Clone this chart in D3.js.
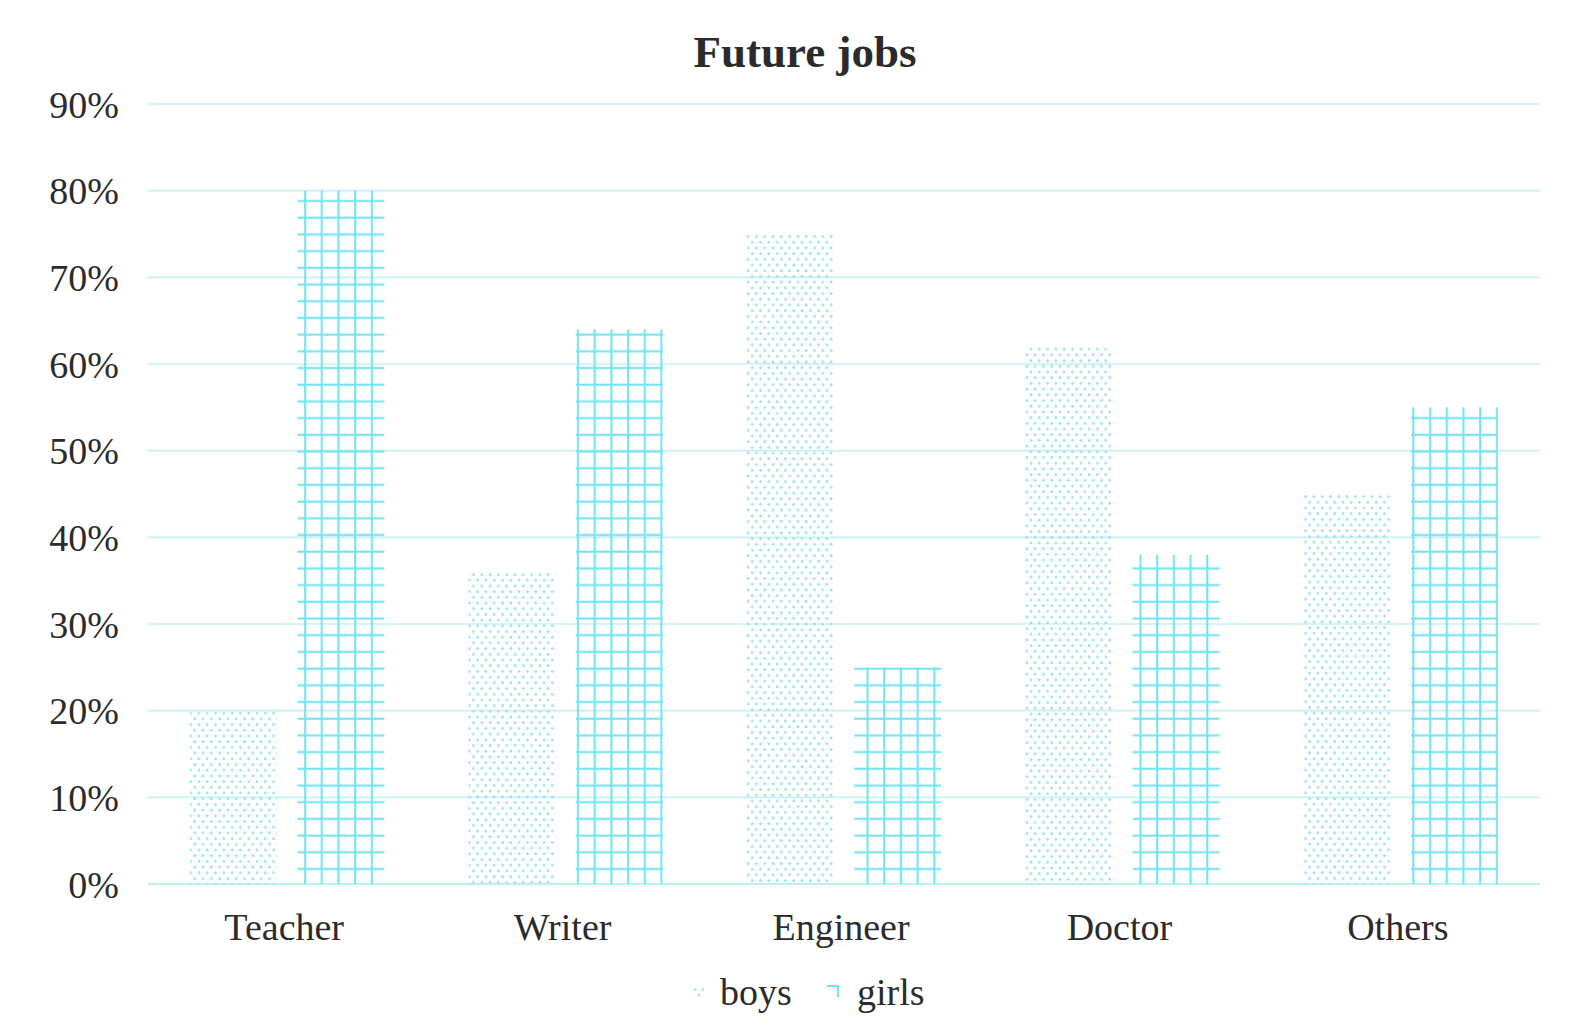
<!DOCTYPE html>
<html lang="en">
  <head>
    <meta charset="UTF-8" />
    <title>Future jobs</title>
    <style>
      html, body { margin: 0; padding: 0; background: #fff; overflow: hidden; }
      svg { display: block; }
      text { font-family: "Liberation Serif", "DejaVu Serif", serif; fill: #2b2b2b; }
    </style>
  </head>
  <body>
    <svg></svg>
    <script src="https://d3js.org/d3.v7.min.js"></script>
    <script>
      // data
      const jobs = ["Teacher", "Writer", "Engineer", "Doctor", "Others"];
      const boys = [20, 36, 75, 62, 45];
      const girls = [80, 64, 25, 38, 55];
      const series = ["boys", "girls"];
      const yTicks = [0, 10, 20, 30, 40, 50, 60, 70, 80, 90];

      const width = 1586;
      const height = 1033;
      const margin = { top: 104, right: 46, bottom: 149, left: 148 };

      const svg = d3.select("svg").attr("width", width).attr("height", height);
      const defs = svg.append("defs");

      const x = d3
        .scaleBand()
        .domain(jobs)
        .range([margin.left, width - margin.right]);

      const inner = d3
        .scaleBand()
        .domain(series)
        .range([42, x.bandwidth() - 42])
        .paddingInner(0.19);

      const y = d3
        .scaleLinear()
        .domain([0, 90])
        .range([height - margin.bottom, margin.top]);

      const gridColor = "#c6f0f5";
      const girlsColor = "#72e3ef";
      const boysColor = "#a2e1eb";

      // gridlines
      svg
        .append("g")
        .selectAll("line")
        .data(yTicks)
        .join("line")
        .attr("x1", margin.left)
        .attr("x2", width - margin.right)
        .attr("y1", (d) => y(d))
        .attr("y2", (d) => y(d))
        .attr("stroke", (d) => (d === 0 ? "#a9e8f1" : gridColor))
        .attr("stroke-width", 1.6);

      // y tick labels
      svg
        .append("g")
        .selectAll("text")
        .data(yTicks)
        .join("text")
        .attr("x", 119)
        .attr("y", (d) => y(d))
        .attr("dy", "0.36em")
        .attr("text-anchor", "end")
        .attr("font-size", 38)
        .text((d) => d + "%");

      // patterns
      function dotsPattern(id, x0, y0) {
        const w = 8.3;
        const h = 11.4;
        const p = defs
          .append("pattern")
          .attr("id", id)
          .attr("patternUnits", "userSpaceOnUse")
          .attr("x", x0)
          .attr("y", y0)
          .attr("width", w)
          .attr("height", h);
        p.append("circle").attr("cx", 2).attr("cy", 2.5).attr("r", 1.45).attr("fill", boysColor);
        p.append("circle").attr("cx", 2 + w / 2).attr("cy", 2.5 + h / 2).attr("r", 1.45).attr("fill", boysColor);
      }

      function gridPattern(id, x0, y0) {
        const s = 16.7;
        const p = defs
          .append("pattern")
          .attr("id", id)
          .attr("patternUnits", "userSpaceOnUse")
          .attr("x", x0)
          .attr("y", y0)
          .attr("width", s)
          .attr("height", s);
        p.append("line")
          .attr("x1", 0).attr("x2", s)
          .attr("y1", 1.7).attr("y2", 1.7)
          .attr("stroke", girlsColor).attr("stroke-width", 2.1);
        p.append("line")
          .attr("x1", 10).attr("x2", 10)
          .attr("y1", 0).attr("y2", s)
          .attr("stroke", girlsColor).attr("stroke-width", 2.1);
      }

      const rows = jobs.map((job, i) => ({ job, boys: boys[i], girls: girls[i] }));

      const groups = svg
        .append("g")
        .selectAll("g")
        .data(rows)
        .join("g")
        .attr("transform", (d) => `translate(${x(d.job)},0)`);

      groups.each(function (d, i) {
        const g = d3.select(this);
        const bx = x(d.job);
        series.forEach((s) => {
          const id = `${s}-${i}`;
          const x0 = bx + inner(s);
          if (s === "boys") dotsPattern(id, x0, y(d[s]));
          else gridPattern(id, x0, y(0));
          g.append("rect")
            .attr("x", inner(s))
            .attr("y", y(d[s]))
            .attr("width", inner.bandwidth())
            .attr("height", y(0) - y(d[s]))
            .attr("fill", `url(#${id})`);
        });
      });

      // category labels
      svg
        .append("g")
        .selectAll("text")
        .data(jobs)
        .join("text")
        .attr("x", (d) => x(d) + x.bandwidth() / 2 - 3)
        .attr("y", 940)
        .attr("text-anchor", "middle")
        .attr("font-size", 38)
        .text((d) => d);

      // title
      svg
        .append("text")
        .attr("x", 805)
        .attr("y", 67)
        .attr("text-anchor", "middle")
        .attr("font-size", 45)
        .attr("font-weight", "bold")
        .text("Future jobs");

      // legend
      dotsPattern("leg-boys", 693, 987);
      const legend = svg.append("g");
      legend
        .append("rect")
        .attr("x", 693)
        .attr("y", 987)
        .attr("width", 11)
        .attr("height", 12)
        .attr("fill", "url(#leg-boys)");
      legend
        .append("path")
        .attr("d", "M827,986 H838 V997")
        .attr("fill", "none")
        .attr("stroke", girlsColor)
        .attr("stroke-width", 2);
      legend
        .selectAll("text")
        .data(series)
        .join("text")
        .attr("x", (d) => (d === "boys" ? 720 : 857))
        .attr("y", 1005)
        .attr("font-size", 38)
        .text((d) => d);
    </script>
  </body>
</html>
